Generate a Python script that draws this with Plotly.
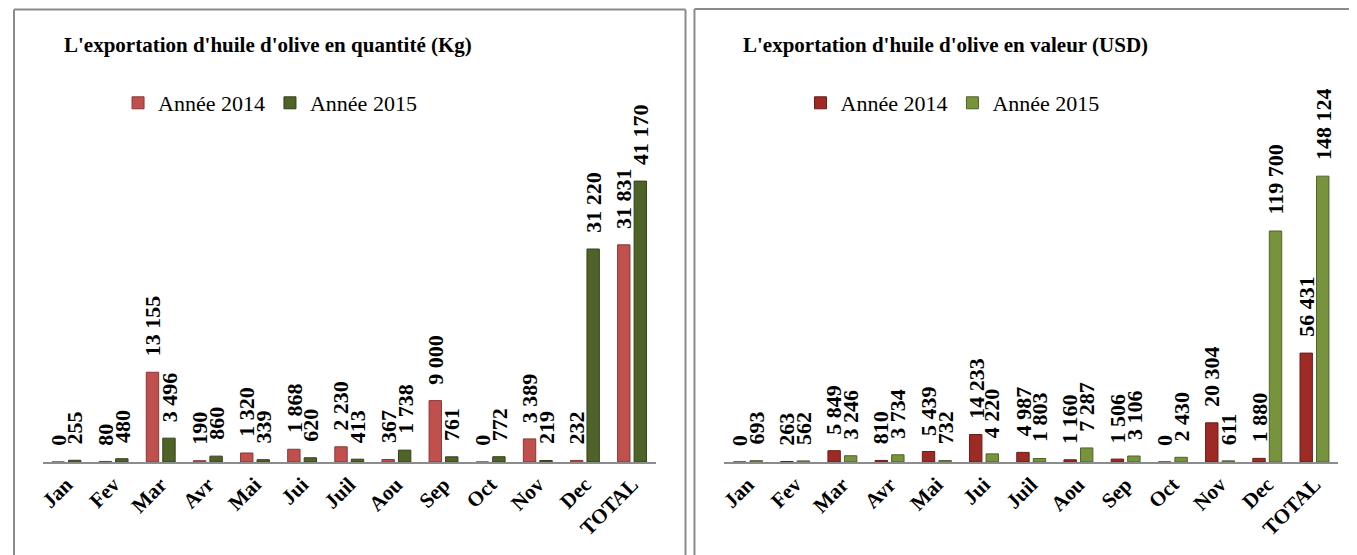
import plotly.graph_objs as go

# the page body adds an 8px margin, so the figure is drawn 8px smaller
OFF = 8
W, H = 1357 - OFF, 555 - OFF

mois = ["Jan", "Fev", "Mar", "Avr", "Mai", "Jui", "Juil", "Aou", "Sep", "Oct", "Nov", "Dec", "TOTAL"]

# quantite (Kg)
kg_2014 = [0, 80, 13155, 190, 1320, 1868, 2230, 367, 9000, 0, 3389, 232, 31831]
kg_2015 = [255, 480, 3496, 860, 339, 620, 413, 1738, 761, 772, 219, 31220, 41170]

# valeur (USD)
usd_2014 = [0, 263, 5849, 810, 5439, 14233, 4987, 1160, 1506, 0, 20304, 1880, 56431]
usd_2015 = [693, 562, 3246, 3734, 732, 4220, 1803, 7287, 3106, 2430, 611, 119700, 148124]

SERIF = "Liberation Serif"


def fmt(v):
    return f"{v:,}".replace(",", " ")


def px(x):
    # screen pixel (reference) -> paper fraction
    return (x - OFF) / W


def py(y):
    return 1 - (y - OFF) / H


fig = go.Figure()

fig.add_trace(go.Bar(x=mois, y=kg_2014, name="Année 2014", xaxis="x", yaxis="y",
                     marker=dict(color="#C0504D", line=dict(color="#8E3533", width=1)),
                     legend="legend"))
fig.add_trace(go.Bar(x=mois, y=kg_2015, name="Année 2015", xaxis="x", yaxis="y",
                     marker=dict(color="#4F6228", line=dict(color="#34411A", width=1)),
                     legend="legend"))
fig.add_trace(go.Bar(x=mois, y=usd_2014, name="Année 2014", xaxis="x2", yaxis="y2",
                     marker=dict(color="#9E2A26", line=dict(color="#6E1A17", width=1)),
                     legend="legend2"))
fig.add_trace(go.Bar(x=mois, y=usd_2015, name="Année 2015", xaxis="x2", yaxis="y2",
                     marker=dict(color="#77933C", line=dict(color="#4F6228", width=1)),
                     legend="legend2"))

# data labels, rotated, above each bar
annots = []
for xref, yref, series in [("x", "y", [kg_2014, kg_2015]), ("x2", "y2", [usd_2014, usd_2015])]:
    for k, vals in enumerate(series):
        shift = -8.3 if k == 0 else 8.3
        for m, v in zip(mois, vals):
            annots.append(dict(x=m, y=v, xref=xref, yref=yref, text=fmt(v), showarrow=False,
                               textangle=-90, xshift=shift, yshift=15, yanchor="bottom",
                               xanchor="center", borderpad=0,
                               font=dict(family=SERIF, size=22, color="black", weight="bold")))

annots.append(dict(x=px(264), y=py(45), xref="paper", yref="paper", showarrow=False,
                   xanchor="center", yanchor="middle",
                   text="L'exportation d'huile d'olive en quantité (Kg)",
                   font=dict(family=SERIF, size=21, color="black", weight="bold")))
annots.append(dict(x=px(944), y=py(45), xref="paper", yref="paper", showarrow=False,
                   xanchor="center", yanchor="middle",
                   text="L'exportation d'huile d'olive en valeur (USD)",
                   font=dict(family=SERIF, size=21, color="black", weight="bold")))

axis_x = dict(type="category", tickangle=-45, showline=True, linecolor="#8C8C8C", linewidth=2,
              showgrid=False, ticks="", tickfont=dict(family=SERIF, size=21, color="black", weight="bold"))
axis_y = dict(visible=False, showgrid=False, zeroline=False)

border = dict(color="#8A8A8A", width=2)
shapes = [
    dict(type="line", xref="paper", yref="paper", x0=px(9), x1=px(9), y0=0, y1=py(9.5), line=border),
    dict(type="line", xref="paper", yref="paper", x0=px(9), x1=px(683), y0=py(9.5), y1=py(9.5), line=border),
    dict(type="line", xref="paper", yref="paper", x0=px(683), x1=px(683), y0=0, y1=py(9.5), line=border),
    dict(type="line", xref="paper", yref="paper", x0=px(692), x1=px(692), y0=0, y1=py(9), line=border),
    dict(type="line", xref="paper", yref="paper", x0=px(692), x1=1, y0=py(9), y1=py(9), line=border),
]

leg = dict(orientation="h", yanchor="middle", xanchor="center",
           font=dict(family=SERIF, size=22, color="black"), bgcolor="rgba(0,0,0,0)",
           itemwidth=30, tracegroupgap=0)

fig.update_layout(
    width=W, height=H, margin=dict(l=0, r=0, t=0, b=0),
    paper_bgcolor="white", plot_bgcolor="white",
    barmode="group", bargap=0.3, bargroupgap=0.25,
    xaxis=dict(domain=[px(38), px(653)], anchor="y", **axis_x),
    yaxis=dict(domain=[py(462), py(140)], range=[0, 47196], anchor="x", **axis_y),
    xaxis2=dict(domain=[px(722), px(1338)], anchor="y2", **axis_x),
    yaxis2=dict(domain=[py(462), py(140)], range=[0, 166857], anchor="x2", **axis_y),
    legend=dict(x=px(266), y=py(103), **leg),
    legend2=dict(x=px(951), y=py(103), **leg),
    annotations=annots,
    shapes=shapes,
)

fig.write_html("out.html")
